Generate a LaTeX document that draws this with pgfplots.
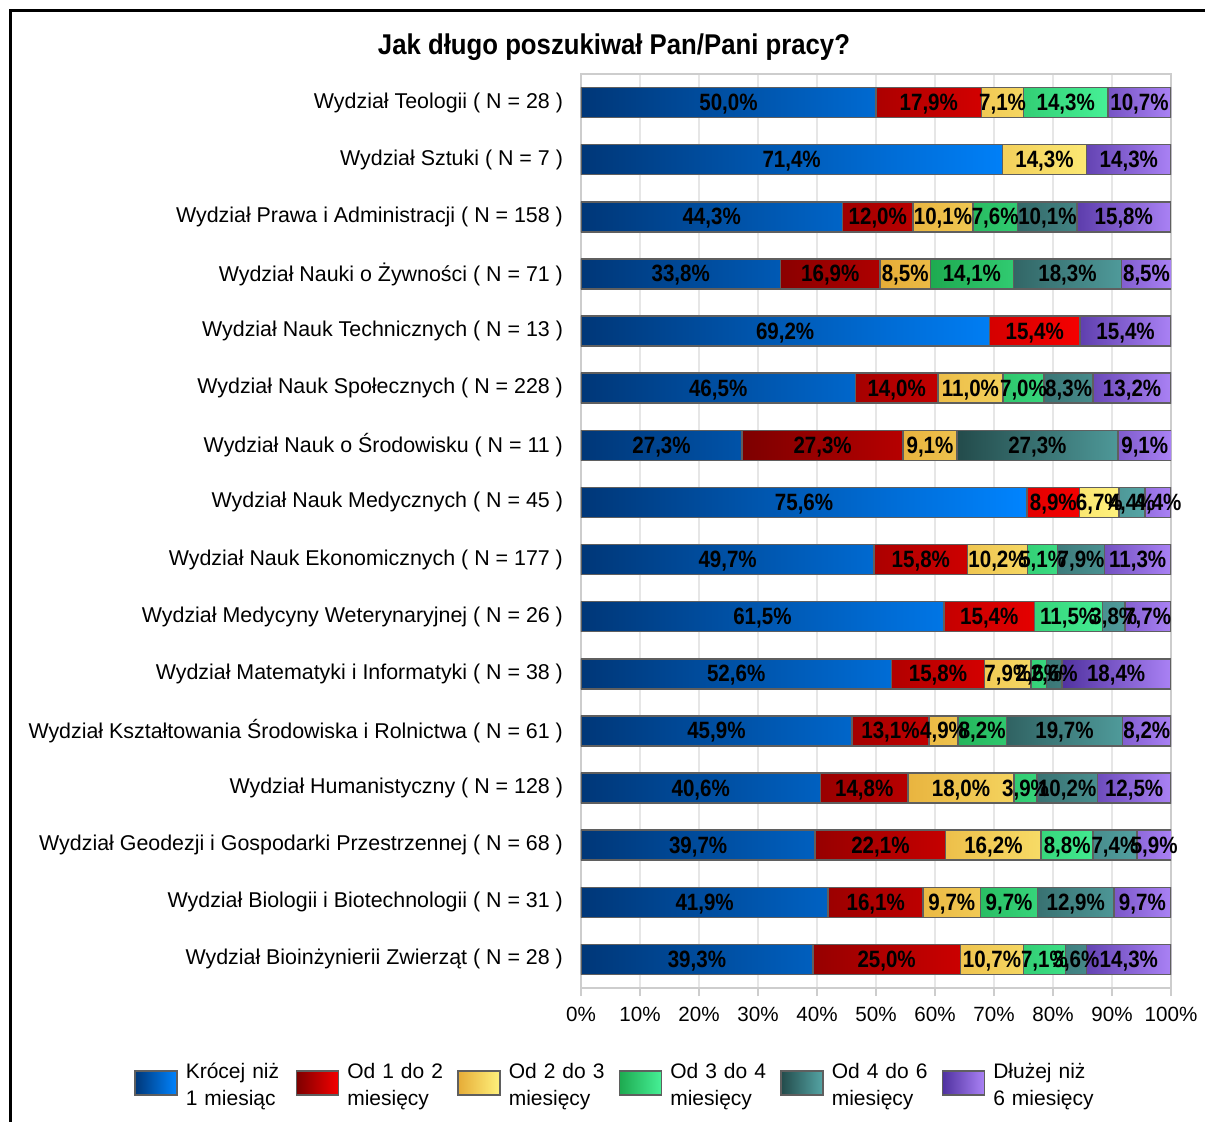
\documentclass[border=0pt]{standalone}
\usepackage{pgfplots}
\pgfplotsset{compat=1.18}
\usepackage{pgfplotstable}
\usepackage{fontspec}
\setmainfont{Liberation Sans}
\newfontfamily\barfont[FakeStretch=0.87]{Liberation Sans}
\newfontfamily\titlefont[FakeStretch=0.9]{Liberation Sans}

\definecolor{bL}{RGB}{0,55,120}
\definecolor{bR}{RGB}{0,132,255}
\definecolor{rL}{RGB}{125,0,0}
\definecolor{rR}{RGB}{245,0,0}
\definecolor{yL}{RGB}{230,172,55}
\definecolor{yR}{RGB}{255,242,125}
\definecolor{gL}{RGB}{30,170,80}
\definecolor{gR}{RGB}{70,240,150}
\definecolor{tL}{RGB}{35,75,75}
\definecolor{tR}{RGB}{85,165,165}
\definecolor{pL}{RGB}{80,50,160}
\definecolor{pR}{RGB}{170,130,245}
\definecolor{baredge}{RGB}{95,95,95}
\definecolor{gridc}{RGB}{230,230,230}
\definecolor{framec}{RGB}{205,205,205}

\pgfplotstableread{
y a b c d e f
0 50.0 17.9 7.1 14.3 0 10.7
1 71.4 0 14.3 0 0 14.3
2 44.3 12.0 10.1 7.6 10.1 15.8
3 33.8 16.9 8.5 14.1 18.3 8.5
4 69.2 15.4 0 0 0 15.4
5 46.5 14.0 11.0 7.0 8.3 13.2
6 27.3 27.3 9.1 0 27.3 9.1
7 75.6 8.9 6.7 0 4.4 4.4
8 49.7 15.8 10.2 5.1 7.9 11.3
9 61.5 15.4 0 11.5 3.8 7.7
10 52.6 15.8 7.9 2.6 2.6 18.4
11 45.9 13.1 4.9 8.2 19.7 8.2
12 40.6 14.8 18.0 3.9 10.2 12.5
13 39.7 22.1 16.2 8.8 7.4 5.9
14 41.9 16.1 9.7 9.7 12.9 9.7
15 39.3 25.0 10.7 7.1 3.6 14.3
}\data

\pgfplotsset{
  common/.style={
    at={(290.5pt,-494pt)}, anchor=south west,
    width=295pt, height=457pt, scale only axis,
    xmin=0, xmax=100, ymin=-0.5, ymax=15.5, y dir=reverse,
  },
  lab/.style={forget plot, only marks, mark=*, mark size=0pt,
    mark options={draw=none, fill=none}, point meta=explicit},
}

\begin{document}
\begin{tikzpicture}
\useasboundingbox (0,0) rectangle (602.5pt,-560.5pt);
\draw[black, line width=1.5pt] (5pt,-600pt) -- (5pt,-5pt) -- (610pt,-5pt);
\node[font=\titlefont\bfseries\fontsize{14.3pt}{16pt}\selectfont] at (307pt,-23.5pt) {Jak długo poszukiwał Pan/Pani pracy?};

\begin{axis}[common,
  xbar stacked, bar width=15pt,
  axis line style={framec, line width=0.75pt},
  xmajorgrids, grid style={gridc, line width=1pt},
  xtick={0,10,...,100},
  xticklabel={\pgfmathprintnumber{\tick}\%},
  /pgf/number format/assume math mode=true,
  x tick label style={font=\fontsize{10.3pt}{12pt}\selectfont, yshift=-2pt},
  tick align=outside, xtick pos=bottom,
  x tick style={framec, line width=1pt}, major tick length=4pt,
  ytick={0,...,15},
  y tick style={draw=none},
  yticklabels={
    {Wydział Teologii ( N = 28 )},
    {Wydział Sztuki ( N = 7 )},
    {Wydział Prawa i Administracji ( N = 158 )},
    {Wydział Nauki o Żywności ( N = 71 )},
    {Wydział Nauk Technicznych ( N = 13 )},
    {Wydział Nauk Społecznych ( N = 228 )},
    {Wydział Nauk o Środowisku ( N = 11 )},
    {Wydział Nauk Medycznych ( N = 45 )},
    {Wydział Nauk Ekonomicznych ( N = 177 )},
    {Wydział Medycyny Weterynaryjnej ( N = 26 )},
    {Wydział Matematyki i Informatyki ( N = 38 )},
    {Wydział Kształtowania Środowiska i Rolnictwa ( N = 61 )},
    {Wydział Humanistyczny ( N = 128 )},
    {Wydział Geodezji i Gospodarki Przestrzennej ( N = 68 )},
    {Wydział Biologii i Biotechnologii ( N = 31 )},
    {Wydział Bioinżynierii Zwierząt ( N = 28 )}},
  y tick label style={font=\fontsize{10.7pt}{12pt}\selectfont, xshift=-1.5pt},
  legend columns=6,
  legend image code/.code={\draw[#1, line width=0.75pt] (0pt,-11.5pt) rectangle (21pt,0.5pt);},
  legend style={at={(-0.768,-0.077)}, anchor=north west, draw=none, fill=none,
    column sep=0pt, /tikz/every odd column/.style={column sep=4pt},
    nodes={text width=55pt, align=left, inner sep=0pt,
      font=\fontsize{10.5pt}{13.5pt}\selectfont}},
  every axis plot/.append style={draw=baredge, line width=0.75pt},
]
\addplot[left color=bL, right color=bR, draw=baredge] table[x=a, y=y] {\data};
\addplot[left color=rL, right color=rR, draw=baredge] table[x=b, y=y] {\data};
\addplot[left color=yL, right color=yR, draw=baredge] table[x=c, y=y] {\data};
\addplot[left color=gL, right color=gR, draw=baredge] table[x=d, y=y] {\data};
\addplot[left color=tL, right color=tR, draw=baredge] table[x=e, y=y] {\data};
\addplot[left color=pL, right color=pR, draw=baredge] table[x=f, y=y] {\data};
\legend{{Krócej niż\\1 miesiąc},{Od 1 do 2\\miesięcy},{Od 2 do 3\\miesięcy},{Od 3 do 4\\miesięcy},{Od 4 do 6\\miesięcy},{Dłużej niż\\6 miesięcy}}
\end{axis}

\begin{axis}[common, hide axis, clip=false,
  nodes near coords={\pgfmathfloatifflags{\pgfplotspointmeta}{0}{}{\pgfmathprintnumber[fixed, fixed zerofill, precision=1, use comma, assume math mode=true]{\pgfplotspointmeta}\%}},
  nodes near coords align=center,
  every node near coord/.append style={font=\barfont\bfseries\fontsize{11.8pt}{13pt}\selectfont, inner sep=0pt, text=black, anchor=center, yshift=-0.8pt},
]
\addplot[lab] table[x expr=\thisrow{a}/2, y=y, meta=a] {\data};
\addplot[lab] table[x expr=\thisrow{a}+\thisrow{b}/2, y=y, meta=b] {\data};
\addplot[lab] table[x expr=\thisrow{a}+\thisrow{b}+\thisrow{c}/2, y=y, meta=c] {\data};
\addplot[lab] table[x expr=\thisrow{a}+\thisrow{b}+\thisrow{c}+\thisrow{d}/2, y=y, meta=d] {\data};
\addplot[lab] table[x expr=\thisrow{a}+\thisrow{b}+\thisrow{c}+\thisrow{d}+\thisrow{e}/2, y=y, meta=e] {\data};
\addplot[lab] table[x expr=\thisrow{a}+\thisrow{b}+\thisrow{c}+\thisrow{d}+\thisrow{e}+\thisrow{f}/2, y=y, meta=f] {\data};
\end{axis}
\end{tikzpicture}
\end{document}
